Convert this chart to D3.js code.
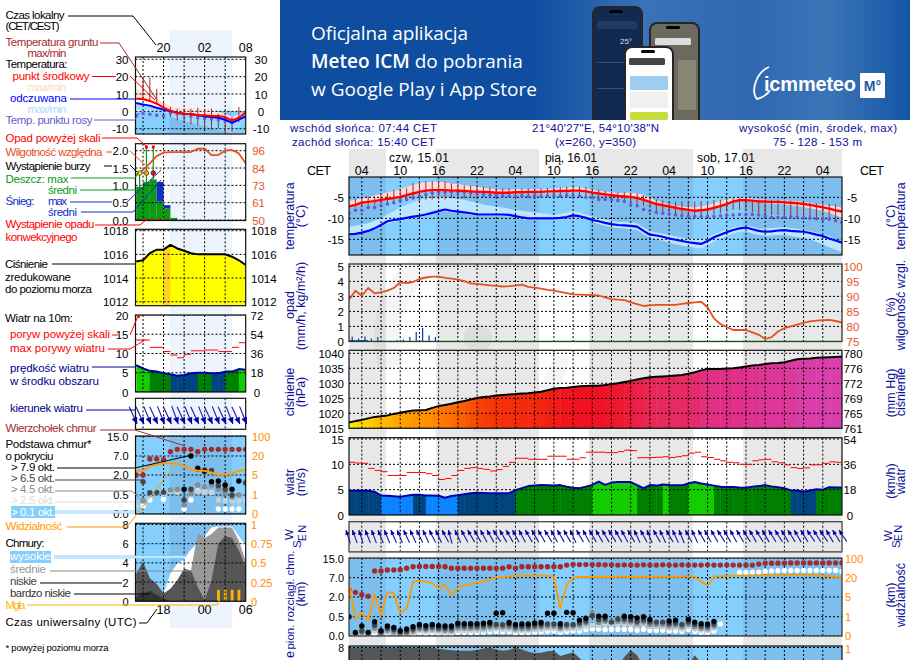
<!DOCTYPE html>
<html>
<head>
<meta charset="utf-8">
<script src="https://cdn.jsdelivr.net/npm/d3@7/dist/d3.min.js"></script>
<style>
html, body { margin: 0; padding: 0; background: #fff; overflow: hidden; }
text { font-family: "Liberation Sans", Arial, sans-serif; }
</style>
</head>
<body>
<svg id="chart" width="910" height="660"></svg>
<script>
// main chart: hourly values, hour 0 = 02:00 CET on 15.01
const mainHours = d3.range(78);
const mainTemp = [-7.2,-6.8,-6.3,-6.1,-5.9,-5.6,-5.4,-5.2,-4.9,-4.5,
  -4.1,-3.7,-3.4,-3.3,-3.3,-3.3,-3.4,-3.4,-3.5,-3.6,
  -3.7,-3.7,-3.8,-3.9,-3.9,-3.9,-3.8,-3.8,-3.7,-3.7,
  -3.7,-3.6,-3.6,-3.5,-3.5,-3.4,-3.4,-3.6,-3.9,-4.1,
  -4.3,-4.5,-4.7,-4.8,-4.9,-5.2,-5.6,-6.1,-6.6,-6.9,
  -7.2,-7.5,-7.8,-8.0,-8.2,-8.1,-7.9,-7.5,-7.1,-6.6,
  -6.0,-5.7,-5.7,-5.8,-6.0,-6.0,-6.1,-6.1,-6.2,-6.3,
  -6.4,-6.6,-6.8,-7.1,-7.4,-7.7,-8.1,-8.4];
const mainTempMax = [-5.9,-5.6,-5.2,-4.9,-4.5,-4.2,-3.8,-3.5,-3.1,-2.6,
  -2.1,-1.7,-1.4,-1.3,-1.3,-1.5,-1.7,-1.9,-2.1,-2.3,
  -2.5,-2.7,-2.9,-3.1,-3.2,-3.2,-3.1,-3.1,-3.1,-3.1,
  -3.0,-3.0,-2.9,-2.8,-2.7,-2.6,-2.6,-2.9,-3.2,-3.5,
  -3.6,-3.8,-4.0,-3.9,-3.9,-4.1,-4.4,-5.2,-5.9,-6.3,
  -6.7,-7.0,-7.2,-7.3,-7.4,-7.2,-6.9,-6.4,-5.9,-5.6,
  -5.3,-5.1,-5.1,-5.3,-5.6,-5.6,-5.7,-5.8,-5.8,-5.8,
  -5.9,-6.1,-6.3,-6.7,-6.8,-7.0,-7.2,-7.4];
const mainTempMin = [-7.6,-7.2,-6.7,-6.5,-6.3,-6.0,-5.8,-5.6,-5.2,-4.8,
  -4.4,-4.0,-3.7,-3.6,-3.6,-3.6,-3.7,-3.7,-3.8,-3.9,
  -4.0,-4.0,-4.1,-4.2,-4.2,-4.2,-4.1,-4.1,-4.0,-4.0,
  -4.0,-3.9,-3.9,-3.8,-3.8,-3.7,-3.7,-3.9,-4.2,-4.4,
  -4.6,-4.8,-5.0,-5.1,-5.2,-5.5,-5.9,-6.4,-6.9,-7.2,
  -7.5,-7.8,-8.1,-8.3,-8.5,-8.4,-8.2,-7.8,-7.4,-6.9,
  -6.3,-6.0,-6.0,-6.1,-6.3,-6.4,-6.5,-6.6,-6.7,-6.9,
  -7.0,-7.3,-7.6,-7.9,-8.2,-8.7,-9.3,-9.8];
const mainGroundMax = [null,-5.4,-5.3,-4.85,-4.7,-4.45,-4,-3.25,-3.1,-2.85,
  -1.65,-1.1,-1.1,-1.1,-1.2,-1.3,-1.7,-1.9,-2.1,-2.2,
  -2.4,-2.5,-2.6,-2.8,-2.9,-2.9,-2.9,-2.9,-2.9,-2.9,
  -2.9,-2.8,-2.7,-2.6,-2.5,-2.4,-2.4,-2.6,-2.9,-3.2,
  -3.5,-3.7,-3.9,-3.8,-3.9,-4.1,-4.5,-5.1,-5.5,-5.7,
  -5.9,-6,-6,-6.1,-6,-5.9,-5.9,-5.7,-5.6,-5.4,
  -5.2,-5.1,-5.4,-5.6,-5.6,-5.6,-5.6,-5.7,-5.8,-5.8,
  -6,-6.1,-6.3,-6.4,-6.4,-6.5,-6.7,null];
const mainGroundMin = [null,-7.4,-7.3,-6.8,-6.7,-6.4,-6.3,-6.2,-6,-5.6,
  -5.6,-6,-5.6,-5.5,-5.5,-5.5,-5.2,-5.2,-5.2,-5.2,
  -5.1,-5,-5,-5,-5,-5,-5,-5,-5,-5,
  -5,-5,-5,-5,-5,-5,-5,-5.1,-5.2,-5.4,
  -5.6,-5.8,-6,-6.1,-6.3,-6.6,-7,-7.5,-8.8,-9,
  -9.1,-9.3,-9.4,-9.5,-9.6,-9.5,-9.2,-9,-8.8,-8.5,
  -8,-8,-8,-8.5,-8.8,-9,-9.2,-9.2,-9.2,-9.4,
  -9.6,-9.8,-10,-10,-10,-10.3,-10.8,null];
const mainFeels = [-13.8,-13.7,-13.4,-13.0,-12.4,-11.6,-10.7,-10.4,-10.2,-9.9,
  -9.6,-9.4,-9.1,-8.7,-8.3,-7.9,-8.2,-8.4,-8.6,-8.8,
  -9.05,-9.1,-9.1,-9.1,-9.1,-9.2,-9.5,-9.8,-10,-10,
  -10,-10,-10,-9.9,-9.7,-9.3,-9.5,-9.9,-10.4,-10.7,
  -11.1,-11.4,-11.6,-11.7,-11.8,-12,-13,-13.9,-14.1,-14.4,
  -14.8,-15.1,-15.4,-15.7,-15.9,-16.1,-15.4,-14.5,-13.9,-13.3,
  -12.8,-12.4,-12.2,-12.6,-13,-13.2,-13.1,-12.9,-12.8,-13,
  -13.1,-13.2,-13.5,-13.9,-14.2,-14.8,-15.3,-15.8];
const mainFeelsMax = [-12,-11.8,-11.5,-11.1,-10.6,-10,-9.1,-8.3,-7.4,-6.8,
  -6.2,-5.7,-5.2,-5.1,-5.0,-5.0,-5.2,-5.4,-5.6,-6,
  -6.3,-6.7,-7,-7.2,-7.4,-7.7,-8,-8.2,-8.4,-8.6,
  -8.8,-9,-9.2,-9,-8.7,-8.4,-8.6,-9.1,-9.6,-9.9,
  -10.3,-10.6,-10.9,-10.8,-11,-11.2,-12.2,-13,-13.4,-13.7,
  -14,-14.3,-14.6,-14.8,-14.9,-15,-14.5,-13.8,-13.2,-12.7,
  -12.2,-11.9,-11.8,-12,-12.4,-12.4,-12.3,-12.2,-12.2,-12.3,
  -12.5,-12.7,-13,-13.4,-13.7,-14.3,-14.9,-15.5];
const mainFeelsMin = [-14.1,-14,-13.7,-13.3,-12.8,-12,-11.3,-10.8,-10.6,-10.3,
  -10,-9.8,-9.5,-9.1,-8.7,-8.3,-8.6,-8.8,-9,-9.2,
  -9.4,-9.5,-9.5,-9.5,-9.5,-9.6,-9.9,-10.2,-10.4,-10.4,
  -10.4,-10.4,-10.4,-10.3,-10.1,-9.7,-9.9,-10.3,-10.8,-11.4,
  -11.8,-12.1,-12.3,-12.4,-12.6,-12.8,-13.8,-14.7,-15,-15.3,
  -15.8,-16.2,-16.5,-16.8,-17,-17.2,-16.5,-15.5,-14.8,-14.2,
  -13.6,-13.2,-13.1,-13.6,-13.9,-14.2,-14.1,-14,-13.9,-14.2,
  -14.5,-14.7,-15,-15.6,-16.2,-16.9,-17.5,-18];
const mainDew = [-8.8,-8.1,-8.1,-7.4,-7.4,-7,-6.6,-6.3,-5.8,-5.5,
  -5.1,-4.7,-4.4,-4,-3.7,-3.7,-3.7,-3.7,-3.7,-3.9,
  -4.2,-4.3,-4.5,-4.6,-4.7,-4.7,-4.8,-4.7,-4.8,-4.7,
  -4.8,-4.7,-4.7,-4.7,-4.6,-4.7,-4.7,-5,-5.1,-5.5,
  -5.5,-5.6,-5.8,-6,-6.8,-7,-7.9,-8.2,-8.6,-8.8,
  -9,-9.2,-9.4,-9.5,-9.6,-9.6,-9.6,-9.5,-9.4,-9.3,
  -9.2,-9.1,-9.1,-9.1,-9.2,-9.5,-9.8,-9.8,-9.7,-9.7,
  -9.7,-9.9,-10,-10.1,-10.2,-10.2,-10.6,-11];
const mainHumidity = [88.9,91.9,90.2,92.8,91,91.4,91.9,92.8,94.7,94.4,
  94.8,95.8,96.3,96.6,96.6,96.2,95.9,95.6,95.1,94.3,
  94.2,93.9,93.7,93.5,93.3,93.4,93.6,93.9,93.2,92.9,
  92.6,92.2,91.9,91.5,91.1,90.7,90.6,90.5,90.4,90.3,
  89.7,89.1,88.9,88.8,88,87.4,86.8,87,87.2,87.2,
  87.2,87.2,87.5,87.8,88,88.2,86.4,82.7,80.8,79.8,
  78.8,78.8,78.8,78,77.2,75.8,76.4,78.3,79.4,80,
  80.6,81.2,81.7,81.9,82.1,82.2,81.8,81.3];
const mainSnowMax = [.33,.2,.33,.2,.3,.05,.05,.1,.13,.3,.62,.89,.4,.3];
const mainSnowMean = [.08,.08,.08];
const mainPressure = [1016.9,1017.4,1017.8,1018.3,1018.8,1019,1019.3,1019.8,1020.2,1020.6,
  1020.9,1021,1021.1,1021.8,1022.4,1022.8,1023.2,1023.7,1024.1,1024.6,
  1025.1,1025.4,1025.6,1025.9,1026.1,1026.3,1026.4,1026.6,1026.7,1026.9,
  1027.2,1027.7,1028.2,1028.4,1028.5,1028.8,1029,1029.1,1029.2,1029.2,
  1029.4,1029.7,1030,1030.4,1030.8,1031.3,1031.7,1032,1032.2,1032.3,
  1032.4,1032.6,1032.8,1033.2,1033.7,1034.3,1034.8,1034.8,1034.8,1034.9,
  1035,1035.3,1035.6,1035.9,1036.1,1036.4,1036.7,1036.8,1037,1037.5,
  1038,1038.2,1038.3,1038.5,1038.6,1038.7,1038.8,1038.9];
const mainWind = [4.8,4.8,4.85,4.8,4.6,3.85,3.8,3.7,3.6,3.8,
  4,4,3.85,3.85,3.8,3.4,3.75,3.9,4.1,4.3,
  4.4,4.35,4.3,4.3,4.3,4.3,4.9,5.3,5.7,5.8,
  5.9,5.85,5.8,5.9,5.6,5.4,5.3,5.6,5.95,6.6,
  5.95,6.4,6.5,6.5,6.5,5.9,5.3,5.9,5.8,6,
  5.9,5.85,5.85,6.2,6.5,6.2,6,5.8,5.6,5.55,
  5.55,5.45,5.4,5.6,5.7,5.9,5.65,5.5,5.3,4.85,
  4.85,4.6,4.85,5.1,5,5.5,5.45,5.45];
const mainGust = [10.4,10.25,10.2,9.2,8.8,8.55,7.8,7.8,7.8,8.4,
  8.4,8.4,8.15,7.8,7,7.2,7.8,8.8,9.2,9.35,
  9.2,9,8.7,8.95,9.6,10.4,11.2,11.2,11,11,
  11,11.6,11.6,11.6,11,11,11.3,12.4,12.4,12.4,
  12.3,12.3,12.5,12.8,12.7,11.3,11.3,11.35,11.4,11.5,
  11.35,11.5,11.7,12.2,12.4,11.5,11.35,11,10.7,10.4,
  10.3,10,10,10.7,10.9,11,10.5,10.3,9.9,9.35,
  9.2,9.3,9.9,9.9,10.2,10.5,10.4,10.3];
const mainWindDir = [162,160,162,158,160,158,158,156,158,155,
  155,153,155,153,155,152,165,155,152,150,
  150,152,150,148,150,150,152,152,150,150,
  150,148,152,150,150,155,150,152,150,150,
  150,148,150,152,150,155,152,158,150,155,
  150,155,158,152,155,150,152,150,148,150,
  152,150,148,150,148,150,148,148,150,148,
  150,148,146,148,146,150,148,146];
const mainVisibility = [15.7,.91,1.69,.83,6.8,1.34,8.8,8,1.69,2.6,
  17,17.5,17,15.7,11.9,14.4,6.8,11.9,13.9,15.2,
  16.2,17,18.5,21.4,22.8,24.1,28.3,28.3,28.3,28.3,
  28.3,28.3,24.1,2.7,14.4,21.4,22.8,22.8,22.8,22.8,
  22.8,22.8,24,24,22.8,22.8,22.8,24,24,24,
  24,24,24,26.9,24,17,13.9,24,26.9,26.9,
  28.3,28.3,28.3,28.3,29.7,29.7,29.7,30,32,32,
  32,31,31,30,28,26,24,22.8];
const mainCloudTop = [3.9,3.2,2.6,2.2,9.8,9.8,10.2,10.2,10.3,10.9,
  11.5,11.6,11.6,11.6,11.6,11.5,10.9,10.9,10.9,10.9,
  10.9,10.9,10.9,10.9,10.9,11.5,10.9,11.5,11.5,11.5,
  11.5,11.5,11.5,11.5,12.2,12.5,12.4,12.4,12.4,12.4,
  12.3,12.3,12.2,12.3,12.2,12.2,12.3,12.2,12.2,12.3,
  12.2,12.2,12.3,12.2,12.2,12.2,12.3,12.2,12.2,12.2,
  12.2,12.2,12.2,12.2,12.6,13,13,13,13,13.1,
  13.1,13.1,13.1,13.1,13.1,13.1,13.1,13.1];
const mainBase79 = [.5,.09,.26,.09,.37,.14,.26,.22,.14,.18,
  .24,.3,.27,.3,.27,.26,.26,.33,.32,.32,
  .32,.33,.35,.76,.8,.35,.3,.31,.31,.34,
  .35,.76,.76,.32,.83,.8,.41,.46,null,.53,
  .53,null,null,.53,.5,.47,.5,.43,null,null,
  .39,.41,null,.43,.36,.32,.31,.38,null];
const mainBase65 = [null,null,.13,null,.28,.1,.2,.16,.1,.12,
  .18,.24,.21,.24,.21,.2,.2,.27,.26,.26,
  .26,.27,.29,.3,.29,.29,.24,.25,.25,.28,
  .29,.31,.31,.26,.3,.3,.34,.39,.58,.42,
  .44,.36,.44,.44,.42,.38,.42,.36,.36,.36,
  .32,.34,.3,.36,.3,.26,.25,.31,null];
const mainBase45 = [null,.06,.09,null,.2,.06,.14,.1,.06,.08,
  .12,.18,.16,.18,.16,.14,.14,.21,.2,.2,
  .2,.21,.23,.24,.23,.23,.18,.19,.19,.22,
  .23,.25,.25,.2,.24,.25,.28,.33,.76,.35,
  .38,.37,.38,.38,.36,.32,.36,.3,.3,.3,
  .26,.28,.24,.3,.24,.2,.19,.25,null];
const mainBase25 = [null,.03,.05,.03,.13,.04,.09,.06,.04,.05,
  .08,.13,.11,.13,.11,.1,.1,.15,.14,.14,
  .14,.15,.17,.18,.17,.17,.13,.14,.14,.16,
  .17,.19,.19,.15,.18,.19,.2,.25,.28,.28,
  .3,.3,.3,.3,.3,.26,.3,.24,.24,.24,
  .2,.22,.18,.24,.18,.15,.14,.2,null];
const mainBase01 = [null,null,.03,null,.06,.02,.05,.03,.02,.03,
  .05,.08,.07,.08,.07,.06,.06,.09,.09,.09,
  .09,.1,.11,.11,.11,.11,.08,.09,.09,.1,
  .11,.12,.12,.1,.12,.13,.13,.17,.18,.18,
  .16,.17,.17,.17,.17,.15,.17,.15,.15,.15,
  .13,.13,.12,.17,.12,.1,.09,.13,.31,null,
  null,9.2,9.2,9.3,9.3,9.6,9.8,9.9,10,10,
  10,10,10,10,10,10,10,9.6];
const mainCloudLow = [8,8,8,8,8,8,8,8,8,8,
  8,8,8,8,7.87,7.8,7.7,7.66,7.66,7.66,
  7.75,7.9,8,7.8,7.66,7.75,8,7.8,7.55,7.4,
  7.45,7.6,7.66,7.1,7.3,7.5,6.9,6.3,6,6.4,
  6.8,6.2,6,7,7.7,7.2,6,5.5,5,5,
  5,5,5.4,6.2,7.2,6.4,5.5,5,4.8,4.8,
  4.5,4.5,4.4,4.2,4.2,4,4,4,4,4,
  4,4,4,4,4,4,4,4];
const mainDayBands = [[5.78, 13.6], [29.7, 37.5], [53.75, 61.56]];
const mainHourTicks = [2, 8, 14, 20, 26, 32, 38, 44, 50, 56, 62, 68, 74];
const mainHourLabels = ['04', '10', '16', '22', '04', '10', '16', '22', '04', '10', '16', '22', '04'];
const mainGridHours = d3.range(2, 77, 3);

// small chart on the left: hourly values from 16:00 to 08:00 local time
const leftHours = d3.range(16, 33);
const leftTemp = [7.3,7.1,6,4.4,2.1,.2,-1,-1.4,-1.7,-2.3,-2.3,-2.7,-2.7,-3.3,-5.2,-3.7,-.6];
const leftTempMax = [13,11.2,9.2,7.3,5.4,2.9,2.5,2.1,1.5,1.5,1,.6,-.4,-1.3,-3.3,-1.7,-.4];
const leftTempMin = [6.8,6.5,5.4,3.8,1.5,-.4,-1.6,-2,-2.3,-2.9,-2.9,-3.3,-3.4,-3.9,-5.8,-4.2,-1.2];
const leftFeels = [4.8,4,3.3,2.1,1,.2,-.8,-1.4,-1.5,-2.3,-2.9,-3.3,-3.7,-4.8,-6.7,-4.8,-2.9];
const leftFeelsMin = [1,.5,.5,0,-.5,-3.3,-4.6,-5.6,-6.7,-7.7,-8.7,-9.7,-10.6,-11.5,-12.9,-9,-3.3];
const leftGroundMax = [null,19.8,19.4,13,6.3,2.5,1.5,1.5,1.5,2.1,1.5,1.5,-1.3,-2.3,-3.3,2.5,null];
const leftGroundMin = [null,6.3,6,4.4,2.5,-3.3,-5.2,-6.2,-7.5,-8.1,-10,-10.6,-10,-12.9,-11.9,-6.2,null];
const leftDew = [-2.3,-1.3,-1.7,-2.3,-2.5,-1,-1.3,-1.7,-2.7,-3.7,-4.2,-4.4,-4.8,-5.6,-5.2,-4.2,-3.3];
const leftHumidity = [79.9,83.2,87.6,92.5,94.7,95.1,95.1,95.1,95.1,97.3,97.3,93.1,93.1,96,96.5,94.2,87.6];
const leftRain = [.96,1.1,1.17,.53,.33,.06,0,0,0,0,0,0,0,0,0,0];
const leftSnow = [0,0,0,.57,.1,0,0,0,0,0,0,0,0,0,0,0];
const leftRainMax = [1.35,2.07,2.07];
const leftStormColors = ['#ffee00', '#ffaa00', '#ee1100'];
const leftRainOverHours = [1, 2];
const leftConvective = [0, 1, 2, 3, 4];
const leftPressure = [1015.4,1015.5,1016.1,1016.4,1016.4,1016.8,1016.5,1016.3,1016.1,1016,1016,1016,1016,1016,1015.8,1015.5,1015.1];
const leftWind = [7,6.1,5.5,5.3,4.9,4.6,4.2,4.4,4.85,5,5,4.85,4.85,5.3,5.3,5.95,5.8];
const leftGust = [13.5,13.5,11.6,11.6,10.5,9.6,8.9,9.8,10.7,10.7,10.9,10.9,10.5,10.5,11.6,12.8];
const leftWindDir = [335,335,338,335,338,335,340,335,338,335,338,335,338,335,338,335,338];
const leftVisibility = [8.4,8.4,12,13.4,14,14,14,12.4,9.5,8.4,8.4,6.8,5.3,5.8,6,8.4,9];
const leftCloudTop = [2,2,6.2,6.2,6,8.7,9.7,9.7,9.7,8.7,9.7,9.7,9.7,9.7,9.7,9.7,9.7];
const leftBase79 = [null,null,null,null,null,null,null,.93,7,3.8,3,1.5,1.55,1.25,.93,1.55,null];
const leftBase65 = [null,1.5,.68,.7,.7,null,null,.37,.93,3.5,3.3,3.2,1.2,.93,.5,null,1.4];
const leftBase45 = [null,.35,null,null,null,.88,.93,.24,.6,1.25,1.1,1.25,.93,.7,.45,.5,1.5];
const leftBase25 = [.21,null,null,null,.6,.8,.7,null,.5,.75,.7,.7,.37,.35,.35,.35,.35];
const leftBase01 = [null,.21,.37,null,.39,.8,null,.13,.37,.8,.75,.7,.13,.13,.13,.13,null];
const leftCloudHigh = [0,0,0,0,.8,2.9,3.9,4.4,5.4,6.1,6.8,7.7,7.8,7.8,7.8,6.8,5.8];
const leftCloudMid = [0,0,0,0,0,.8,1.7,3,3.2,7.1,6.6,7,7.7,7.7,7.7,6.3,4.2];
const leftCloudLow = [2.9,4.1,2.4,1.8,.8,1.3,2.2,3.4,3.2,1.5,.1,2.2,6,6.8,6.6,5.3,3.6];
const leftCloudVeryLow = [.5,.8,1.1,.65,.3,0,0,0,0,0,0,0,0,0,0,0,0];
const leftFog = [.15,.15,.15,.15];
const leftFogHours = [28, 29, 30, 31];
const leftNightBand = [[20.9, 30]];
const leftGridHours = [17, 20, 23, 26, 29];
const leftLabelHours = [20, 26, 32];
const leftLocalLabels = ['20', '02', '08'];
const leftUtcLabels = ['18', '00', '06'];

// axis ticks
const tempTicks = [-5, -10, -15];
const rainTicks = [0, 1, 2, 3, 4, 5];
const humidityTicks = [75, 80, 85, 90, 95, 100];
const pressureTicks = [1015, 1020, 1025, 1030, 1035, 1040];
const pressureHgLabels = ['761', '765', '769', '772', '776', '780'];
const windTicks = [0, 5, 10, 15];
const windKmhLabels = ['0', '18', '36', '54'];
const heightTicks = [0, .5, 2, 7, 15];
const visibilityTicks = [0, 1, 5, 20, 100];
const leftTempTicks = [30, 20, 10, 0, -10];
const leftRainTicks = [2, 1.5, 1, .5, 0];
const leftHumidityLabels = ['96', '84', '73', '61', '50'];
const leftPressureTicks = [1018, 1016, 1014, 1012];
const leftWindTicks = [20, 15, 10, 5, 0];
const leftWindKmhLabels = ['72', '54', '36', '18', '0'];
const cloudTicks = [0, 2, 4, 6, 8];
const cloudFractionLabels = ['0', '0.25', '0.5', '0.75', '1'];

const BLACK = '#000', NAVY = '#10109a', RED = '#ff0000', BROWN = '#a52a2a', HUMID = '#e6501e';
const ORANGE = '#ff9a00', PURPLE = '#6a5acd', SKY_DAY = '#85cfff', SKY_NIGHT = '#7cbfee';
const BASE_COLORS = ['#fff', '#cfcfcf', '#8c8c8c', '#454545', '#000'];

const svg = d3.select('#chart');
let clipCount = 0;

const mainX = d3.scaleLinear().domain([0, 77]).range([349, 842]);
const leftX = d3.scaleLinear().domain([15.9, 32]).range([135.5, 245.7]);

const windColor = d3.scaleThreshold().domain([3.9, 4.87, 5.95]).range(['#0a84ff', '#00457f', '#008000', '#15cc00']);
const pressureColor = d3.scaleLinear()
  .domain([1017.2, 1019, 1022, 1026, 1029, 1032, 1035, 1039])
  .range(['#ffe000', '#ffb800', '#ff8000', '#f53008', '#f01020', '#e82858', '#e03088', '#d840b0']);

function panel(x, top, bottom) {
  // clipped group for one panel of a chart
  let id = 'clip' + (clipCount++);
  svg.append('clipPath').attr('id', id).append('rect')
    .attr('x', x.range()[0]).attr('y', top)
    .attr('width', x.range()[1] - x.range()[0]).attr('height', bottom - top);
  let g = svg.append('g').attr('clip-path', 'url(#' + id + ')');
  return { g: g, x: x, top: top, bottom: bottom, x0: x.range()[0], x1: x.range()[1] };
}

function sky(p, top, bands, baseColor, bandColor) {
  p.g.append('rect').attr('x', p.x0).attr('y', top).attr('width', p.x1 - p.x0).attr('height', p.bottom - top).attr('fill', baseColor);
  p.g.selectAll(null).data(bands).join('rect')
    .attr('x', d => p.x(d[0])).attr('y', top)
    .attr('width', d => p.x(d[1]) - p.x(d[0])).attr('height', p.bottom - top)
    .attr('fill', bandColor);
}

function grid(p, hours, y, ticks) {
  let dash = '2,2';
  p.g.selectAll(null).data(hours).join('line')
    .attr('x1', d => p.x(d)).attr('x2', d => p.x(d))
    .attr('y1', p.top).attr('y2', p.bottom)
    .attr('stroke', BLACK).attr('stroke-dasharray', dash);
  p.g.selectAll(null).data(ticks).join('line')
    .attr('x1', p.x0).attr('x2', p.x1)
    .attr('y1', d => y(d)).attr('y2', d => y(d))
    .attr('stroke', BLACK).attr('stroke-dasharray', dash);
}

function band(p, y, hours, low, high, color) {
  let area = d3.area().x(d => p.x(d)).y0((d, i) => y(low[i])).y1((d, i) => y(high[i]));
  p.g.append('path').attr('d', area(hours)).attr('fill', color);
}

function fillTo(p, y, hours, values, color, floor) {
  let area = d3.area().x(d => p.x(d)).y0(y(floor)).y1((d, i) => y(values[i]));
  p.g.append('path').attr('d', area(hours)).attr('fill', color);
}

function curve(p, y, hours, values, color, width) {
  let line = d3.line().defined((d, i) => values[i] !== null).x(d => p.x(d)).y((d, i) => y(values[i]));
  p.g.append('path').attr('d', line(hours)).attr('fill', 'none').attr('stroke', color)
    .attr('stroke-width', width).attr('stroke-linejoin', 'round');
}

function dots(p, y, hours, values, color, r) {
  let pts = hours.map((h, i) => [h, values[i]]).filter(d => d[1] !== null && d[1] !== undefined);
  p.g.selectAll(null).data(pts).join('circle')
    .attr('cx', d => p.x(d[0])).attr('cy', d => y(d[1])).attr('r', r).attr('fill', color);
}

function columns(p, y, hours, values, colorOf, floor) {
  // one coloured column per hour, clipped to the area under the line
  let id = 'clip' + (clipCount++);
  let area = d3.area().x(d => p.x(d)).y0(y(floor)).y1((d, i) => y(values[i]));
  svg.append('clipPath').attr('id', id).append('path').attr('d', area(hours));
  p.g.append('g').attr('clip-path', 'url(#' + id + ')')
    .selectAll('rect').data(hours.slice(0, -1)).join('rect')
    .attr('x', d => p.x(d)).attr('y', p.top)
    .attr('width', d => p.x(d + 1) - p.x(d) + .5).attr('height', p.bottom - p.top)
    .attr('fill', (d, i) => colorOf(values[i], i));
}

function ground(p, y, hours, high, low) {
  let pts = hours.map((h, i) => [h, high[i], low[i]]).filter(d => d[1] !== null);
  p.g.selectAll(null).data(pts).join('line')
    .attr('x1', d => p.x(d[0])).attr('x2', d => p.x(d[0]))
    .attr('y1', d => y(d[1])).attr('y2', d => y(d[2]))
    .attr('stroke', BROWN);
}

function gusts(p, y, hours, values) {
  p.g.selectAll(null).data(values).join('line')
    .attr('x1', (d, i) => p.x(hours[i])).attr('x2', (d, i) => p.x(hours[i] + 1))
    .attr('y1', d => y(d)).attr('y2', d => y(d))
    .attr('stroke', RED);
}

function arrows(x, hours, dirs, yTip, len, head, dx) {
  let g = svg.append('g');
  let items = g.selectAll('g').data(hours).join('g')
    .attr('transform', (d, i) => 'translate(' + (x(d) + dx) + ',' + yTip + ') rotate(' + dirs[i] + ')');
  items.append('line').attr('x1', 0).attr('x2', 0).attr('y1', 0).attr('y2', -len)
    .attr('stroke', '#1818b0').attr('stroke-width', 1.1);
  items.append('path').attr('d', 'M0,0L' + head + ',' + (-head * 2.2) + 'L' + (-head) + ',' + (-head * 2.2) + 'Z')
    .attr('fill', '#00009c');
}

function border(p, color, width) {
  svg.append('rect').attr('x', p.x0).attr('y', p.top).attr('width', p.x1 - p.x0).attr('height', p.bottom - p.top)
    .attr('fill', 'none').attr('stroke', color || '#111').attr('stroke-width', width || 1.2);
}

function tickText(scale, values, labels, xPos, anchor, color, size) {
  // tick labels through a d3 axis, without ticks or domain line
  let axis = d3.axisLeft(scale).tickValues(values).tickSize(0).tickPadding(0)
    .tickFormat((d, i) => labels ? labels[i] : d);
  let g = svg.append('g').attr('transform', 'translate(' + xPos + ',0)').call(axis);
  g.select('.domain').remove();
  g.selectAll('text')
    .attr('x', 0).attr('dy', '.36em')
    .attr('text-anchor', anchor).attr('fill', color || BLACK)
    .attr('font-size', size || 11.5)
    .attr('font-family', '"Liberation Sans", Arial, sans-serif');
}

function label(text, x, y, opts) {
  opts = opts || {};
  let t = svg.append('text').attr('x', x).attr('y', y).text(text)
    .attr('fill', opts.color || BLACK)
    .attr('font-size', opts.size || 11.5)
    .attr('text-anchor', opts.anchor || 'start');
  if (opts.width) t.attr('textLength', opts.width).attr('lengthAdjust', 'spacing');
  if (opts.bold) t.attr('font-weight', 'bold');
  return t;
}

function vertical(text, x, y, color, size) {
  svg.append('text').attr('transform', 'translate(' + x + ',' + y + ') rotate(-90)')
    .attr('text-anchor', 'middle').attr('fill', color || NAVY).attr('font-size', size || 12.5).text(text);
}

function connector(points, color, width) {
  svg.append('path').attr('d', d3.line()(points)).attr('fill', 'none')
    .attr('stroke', color).attr('stroke-width', width || 1);
}

// ---- banner ----
function drawBanner() {
  let defs = svg.append('defs');
  let grad = defs.append('linearGradient').attr('id', 'bannerFill');
  [[0, '#0f4da0'], [.4, '#0f4da0'], [.58, '#3a72b7'], [.75, '#2f68b0'], [.87, '#3b74b6'], [1, '#1456a6']]
    .forEach(s => grad.append('stop').attr('offset', s[0]).attr('stop-color', s[1]));
  defs.append('clipPath').attr('id', 'bannerClip').append('rect')
    .attr('x', 280).attr('y', 0).attr('width', 630).attr('height', 120);
  svg.append('rect').attr('x', 280).attr('y', 0).attr('width', 630).attr('height', 120).attr('fill', 'url(#bannerFill)');

  let textFont = '"Open Sans", "Noto Sans", sans-serif';
  label('Oficjalna aplikacja', 311, 40, { color: '#fff', size: 19, width: 157 }).style('font-family', textFont);
  let second = label('', 311, 68, { color: '#fff', size: 19 }).style('font-family', textFont);
  second.append('tspan').attr('font-weight', 600).text('Meteo ICM');
  second.append('tspan').text(' do pobrania');
  label('w Google Play i App Store', 311, 96, { color: '#fff', size: 19, width: 226 }).style('font-family', textFont);

  // three phones, back to front, cut at the lower edge of the banner
  let phones = svg.append('g').attr('clip-path', 'url(#bannerClip)');
  let phone = (x, y, w, fill) => phones.append('rect').attr('x', x).attr('y', y).attr('width', w).attr('height', 130)
    .attr('rx', 7).attr('fill', fill).attr('stroke', '#26262a').attr('stroke-width', 2);
  let piece = (x, y, w, h, fill) => phones.append('rect').attr('x', x).attr('y', y).attr('width', w).attr('height', h).attr('rx', 1.5).attr('fill', fill);
  phone(593, 7, 49, '#122a4f');
  piece(609, 10, 14, 3, '#000');
  piece(597, 21, 40, 8, '#24395f');
  piece(597, 62, 40, 1, '#35507f');
  piece(597, 88, 40, 1, '#35507f');
  phone(650, 23, 49, '#6c6a5e');
  piece(666, 26, 14, 3, '#000');
  piece(655, 38, 36, 7, '#ddd');
  piece(678, 60, 18, 50, '#8a8676');
  phone(625, 47, 48, '#fff');
  piece(641, 50, 14, 3, '#000');
  piece(629, 58, 36, 7, '#444');
  piece(630, 76, 38, 14, '#9ecdf0');
  piece(630, 92, 38, 16, '#f0f0f0');
  piece(630, 112, 38, 8, '#c8dc3c');
  label('25°', 620, 44, { color: '#dde', size: 8 });

  // logo
  svg.append('path').attr('d', 'M769,67C757,72 750,90 757,99C762,98 768,94 770,90')
    .attr('fill', 'none').attr('stroke', '#fff').attr('stroke-width', 1.8);
  label('icmmeteo', 764, 91, { color: '#fff', size: 20, bold: true, width: 92 });
  svg.append('rect').attr('x', 860).attr('y', 73).attr('width', 25).attr('height', 25).attr('rx', 1).attr('fill', '#fff');
  label('M°', 872.5, 91, { color: '#1a5ba8', size: 14, bold: true, anchor: 'middle' });
}

// ---- header and stripes of the main chart ----
function drawMainBackdrop() {
  label('wschód słońca: 07:44 CET', 290, 132, { color: NAVY, size: 11.5, width: 147 });
  label('zachód słońca: 15:40 CET', 292, 146, { color: NAVY, size: 11.5, width: 143 });
  label('21°40\'27"E, 54°10\'38"N', 532, 132, { color: NAVY, size: 11.5, width: 127 });
  label('(x=260,  y=350)', 555, 146, { color: NAVY, size: 11.5, width: 81 });
  label('wysokość (min, środek, max)', 739, 132, { color: NAVY, size: 11.5, width: 158 });
  label('75 - 128 - 153 m', 773, 146, { color: NAVY, size: 11.5, width: 89 });

  svg.append('rect').attr('x', 349).attr('y', 149).attr('width', 493).attr('height', 511).attr('fill', '#e8e8e8');
  svg.selectAll(null).data(mainDayBands).join('rect')
    .attr('x', d => mainX(d[0])).attr('y', 149)
    .attr('width', d => mainX(d[1]) - mainX(d[0])).attr('height', 511)
    .attr('fill', '#fff');

  // faint watermark behind the panels
  let arc = d3.arc();
  let mark = svg.append('g').attr('transform', 'translate(478,338)').attr('fill', '#000').attr('opacity', .035);
  mark.append('path').attr('d', arc({ innerRadius: 78, outerRadius: 104, startAngle: -1.9, endAngle: .4 }));
  mark.append('path').attr('d', arc({ innerRadius: 78, outerRadius: 94, startAngle: 1.8, endAngle: 3.2 }));
  mark.append('circle').attr('cx', 0).attr('cy', 0).attr('r', 14);

  label('czw, 15.01', 389, 162, { size: 12, width: 60 });
  label('pią, 16.01', 545, 162, { size: 12, width: 52 });
  label('sob, 17.01', 697, 162, { size: 12, width: 58 });
  label('CET', 307, 175, { size: 12.5, width: 24 });
  label('CET', 860, 175, { size: 12.5, width: 24 });
  svg.selectAll(null).data(mainHourTicks).join('text')
    .attr('x', d => mainX(d)).attr('y', 175).attr('text-anchor', 'middle')
    .attr('font-size', 12.5).text((d, i) => mainHourLabels[i]);
}

function drawMainChart() {
  let x = mainX;
  let hours = mainHours;

  // temperature
  let yTemp = d3.scaleLinear().domain([-5, -15]).range([197.3, 239.3]);
  let p = panel(x, 177, 255);
  sky(p, 177, mainDayBands, SKY_NIGHT, SKY_DAY);
  band(p, yTemp, hours, mainFeelsMin, mainFeelsMax, '#bde6ff');
  band(p, yTemp, hours, mainTempMin, mainTempMax, '#ffdada');
  grid(p, mainGridHours, yTemp, tempTicks);
  ground(p, yTemp, hours, mainGroundMax, mainGroundMin);
  dots(p, yTemp, hours, mainDew, PURPLE, 1.8);
  curve(p, yTemp, hours, mainFeels, '#0000ff', 2.2);
  curve(p, yTemp, hours, mainTemp, '#ff0000', 2.4);
  border(p);
  tickText(yTemp, tempTicks, null, 344, 'end');
  tickText(yTemp, tempTicks, null, 852, 'middle');

  // precipitation and humidity
  let yRain = d3.scaleLinear().domain([0, 5]).range([341.4, 266.4]);
  let yHum = d3.scaleLinear().domain([75, 100]).range([341.4, 266.4]);
  p = panel(x, 264, 341.5);
  grid(p, mainGridHours, yRain, rainTicks);
  p.g.selectAll(null).data(mainSnowMax).join('line')
    .attr('x1', (d, i) => x(i + .5)).attr('x2', (d, i) => x(i + .5))
    .attr('y1', yRain(0)).attr('y2', d => yRain(d))
    .attr('stroke', '#1030d0').attr('stroke-width', 1.2);
  p.g.selectAll(null).data(mainSnowMean).join('rect')
    .attr('x', (d, i) => x(i)).attr('y', d => yRain(d))
    .attr('width', (d, i) => x(i + 1) - x(i)).attr('height', d => yRain(0) - yRain(d))
    .attr('fill', '#1030d0');
  curve(p, yHum, hours, mainHumidity, HUMID, 1.8);
  border(p, '#333', 1.3);
  svg.append('line').attr('x1', 349).attr('x2', 842).attr('y1', 341.5).attr('y2', 341.5).attr('stroke', '#0a5a0a');
  tickText(yRain, rainTicks, null, 344, 'end');
  tickText(yHum, humidityTicks, null, 853, 'middle', '#e8531f');

  // pressure
  let yPres = d3.scaleLinear().domain([1015, 1040]).range([428.3, 353.3]);
  p = panel(x, 350.3, 428.3);
  columns(p, yPres, hours, mainPressure, v => pressureColor(v), 1015);
  grid(p, mainGridHours, yPres, pressureTicks);
  curve(p, yPres, hours, mainPressure, '#000', 2);
  border(p);
  tickText(yPres, pressureTicks, null, 344, 'end');
  tickText(yPres, pressureTicks, pressureHgLabels, 853, 'middle');

  // wind
  let yWind = d3.scaleLinear().domain([0, 15]).range([515, 439]);
  p = panel(x, 437.7, 515);
  columns(p, yWind, hours, mainWind, v => windColor(v), 0);
  grid(p, mainGridHours, yWind, windTicks);
  gusts(p, yWind, hours, mainGust);
  curve(p, yWind, hours, mainWind, '#0000a8', 2);
  border(p);
  tickText(yWind, windTicks, null, 344, 'end');
  tickText(yWind, windTicks, windKmhLabels, 850, 'middle');

  // wind direction
  p = panel(x, 521.7, 551.7);
  grid(p, mainGridHours, yWind, []);
  border(p, '#444', 1.3);
  svg.append('line').attr('x1', 349).attr('x2', 842).attr('y1', 551.7).attr('y2', 551.7).attr('stroke', '#666').attr('stroke-width', 1.5);
  arrows(x, hours, mainWindDir, 530, 14, 2.2, -3);

  // cloud base and visibility
  let yBase = d3.scaleLinear().domain(heightTicks).range([636, 616.7, 597, 577.7, 558.3]);
  let yVis = d3.scaleLinear().domain(visibilityTicks).range([636, 616.7, 597, 577.7, 558.3]);
  p = panel(x, 558, 636);
  sky(p, 558, mainDayBands, SKY_NIGHT, SKY_DAY);
  grid(p, mainGridHours, yBase, heightTicks);
  [mainBase01, mainBase25, mainBase45, mainBase65, mainBase79].forEach((s, i) => dots(p, yBase, hours, s, BASE_COLORS[i], 2.7));
  dots(p, yBase, hours, mainCloudTop, BROWN, 2.7);
  curve(p, yVis, hours, mainVisibility, ORANGE, 1.8);
  border(p, '#333');
  tickText(yBase, heightTicks, ['0.0', '0.5', '2.0', '7.0', '15.0'], 344, 'end', BLACK, 11);
  tickText(yVis, visibilityTicks, null, 845, 'start', '#ff8c00', 11);

  // clouds
  let yCloud = d3.scaleLinear().domain([0, 8]).range([724, 647.5]);
  p = panel(x, 646, 724);
  sky(p, 646, mainDayBands, SKY_NIGHT, SKY_DAY);
  fillTo(p, yCloud, hours, mainCloudLow, '#555', 0);
  grid(p, mainGridHours, yCloud, cloudTicks);
  border(p);
  tickText(yCloud, [8], null, 344, 'end', BLACK, 10.5);
  label('1', 845, 653, { color: '#ff8c00', size: 11 });

  // axis titles
  vertical('temperatura', 294, 216);
  vertical('(°C)', 305, 216);
  vertical('opad', 294, 305);
  vertical('(mm/h, kg/m²/h)', 305, 306);
  vertical('ciśnienie', 294, 392);
  vertical('(hPa)', 305, 392);
  vertical('wiatr', 294, 482);
  vertical('(m/s)', 305, 482);
  vertical('pion. rozciągł. chm.', 294, 600, NAVY, 11.5);
  vertical('(km)', 305, 594);
  svg.append('text').attr('transform', 'translate(294,658) rotate(-90)').attr('fill', NAVY).attr('font-size', 12.5).text('e');

  vertical('temperatura', 905, 216);
  vertical('(°C)', 895, 216);
  vertical('wilgotność wzgl.', 905, 305);
  vertical('(%)', 895, 307);
  vertical('ciśnienie', 905, 392);
  vertical('(mm Hg)', 895, 393);
  vertical('wiatr', 905, 481);
  vertical('(km/h)', 895, 481);
  vertical('widzialność', 905, 595);
  vertical('(km)', 895, 595);

  // compass letters next to the wind direction panel
  [[293, 540, 'W', 11.5], [301, 548, 'S', 11.5], [306, 533, 'N', 11.5], [306, 541, 'E', 10],
   [892, 541, 'W', 11.5], [900, 548, 'S', 11.5], [902, 533, 'N', 11.5], [902, 541, 'E', 10]].forEach(d => {
    svg.append('text').attr('transform', 'translate(' + d[0] + ',' + d[1] + ') rotate(-90)')
      .attr('fill', NAVY).attr('font-size', d[3]).text(d[2]);
  });
}

function drawLeftChart() {
  let x = leftX;
  let hours = leftHours;

  // night band behind all the panels
  svg.append('rect').attr('x', x(20.9)).attr('y', 30).attr('width', x(30) - x(20.9)).attr('height', 598).attr('fill', '#edf4fd');

  // temperature
  let yTemp = d3.scaleLinear().domain([-10, 30]).range([128.7, 59.3]);
  let p = panel(x, 57, 134);
  sky(p, yTemp(0), leftNightBand, SKY_DAY, SKY_NIGHT);
  band(p, yTemp, hours, leftFeelsMin, leftFeels, '#98d9ff');
  band(p, yTemp, hours, leftTempMin, leftTempMax, '#ffe4d9');
  grid(p, leftGridHours, yTemp, leftTempTicks);
  ground(p, yTemp, hours, leftGroundMax, leftGroundMin);
  p.g.selectAll(null).data(leftDew).join('rect')
    .attr('x', (d, i) => x(hours[i]) - 1.5).attr('y', d => yTemp(d) - 1.5)
    .attr('width', 3).attr('height', 3).attr('fill', PURPLE);
  curve(p, yTemp, hours, leftFeels, '#0000ff', 2);
  curve(p, yTemp, hours, leftTemp, '#ff0000', 2);
  border(p);
  tickText(yTemp, leftTempTicks, null, 128.5, 'end');
  tickText(yTemp, leftTempTicks, null, 261, 'middle');

  // precipitation
  let yRain = d3.scaleLinear().domain([0, 2]).range([220, 150.7]);
  let yHum = d3.scaleLinear().domain([50, 96]).range([220, 150.7]);
  p = panel(x, 143.7, 220.5);
  p.g.selectAll(null).data(leftRain).join('rect')
    .attr('x', (d, i) => x(hours[i])).attr('y', d => yRain(d))
    .attr('width', (d, i) => x(hours[i] + 1) - x(hours[i])).attr('height', d => yRain(0) - yRain(d))
    .attr('fill', '#0a9a14');
  p.g.selectAll(null).data(leftSnow).join('rect')
    .attr('x', (d, i) => x(hours[i])).attr('y', (d, i) => yRain(d + leftRain[i]))
    .attr('width', (d, i) => x(hours[i] + 1) - x(hours[i])).attr('height', d => yRain(0) - yRain(d))
    .attr('fill', '#1030c8');
  grid(p, leftGridHours, yRain, leftRainTicks);
  p.g.selectAll(null).data(leftRainMax).join('line')
    .attr('x1', (d, i) => x(hours[i] + .5)).attr('x2', (d, i) => x(hours[i] + .5))
    .attr('y1', yRain(.9)).attr('y2', d => yRain(d))
    .attr('stroke', '#0a9a14').attr('stroke-width', 1.2);
  curve(p, yHum, hours, leftHumidity, HUMID, 1.8);
  p.g.selectAll(null).data(leftRainOverHours).join('rect')
    .attr('x', d => x(hours[d] + .5) - 1.5).attr('y', 145.5).attr('width', 3).attr('height', 3).attr('fill', RED);
  p.g.selectAll(null).data(leftStormColors).join('circle')
    .attr('cx', (d, i) => x(hours[i] + .5)).attr('cy', 173).attr('r', 2.3)
    .attr('fill', d => d).attr('stroke', '#222').attr('stroke-width', .7);
  p.g.selectAll(null).data(leftConvective).join('circle')
    .attr('cx', d => x(hours[d] + .3)).attr('cy', 219.5).attr('r', 1.2).attr('fill', RED);
  border(p);
  tickText(yRain, leftRainTicks, ['2.0', '1.5', '1.0', '0.5', '0.0'], 128.5, 'end');
  tickText(yRain, leftRainTicks, leftHumidityLabels, 265, 'end', '#e8531f');

  // pressure
  let yPres = d3.scaleLinear().domain([1018, 1012]).range([230.7, 301.7]);
  p = panel(x, 229.3, 305.7);
  columns(p, yPres, hours, leftPressure, (v, i) => leftPressure[i + 1] > 1016.6 ? '#ffd21e' : '#ffff00', 1011);
  grid(p, leftGridHours, yPres, leftPressureTicks);
  curve(p, yPres, hours, leftPressure, '#000', 2);
  border(p);
  tickText(yPres, leftPressureTicks, null, 128.5, 'end');
  tickText(yPres, leftPressureTicks, null, 251, 'start');

  // wind
  let yWind = d3.scaleLinear().domain([0, 20]).range([392, 315]);
  p = panel(x, 315, 392);
  columns(p, yWind, hours, leftWind, v => windColor(v), 0);
  grid(p, leftGridHours, yWind, leftWindTicks);
  gusts(p, yWind, hours, leftGust);
  curve(p, yWind, hours, leftWind, '#0000a8', 2);
  border(p);
  tickText(yWind, leftWindTicks, null, 128.5, 'end');
  tickText(yWind, leftWindTicks, leftWindKmhLabels, 257, 'middle');
  svg.append('circle').attr('cx', 138.5).attr('cy', 316.5).attr('r', 1.5).attr('fill', RED);

  // wind direction
  p = panel(x, 398.3, 429.3);
  grid(p, leftGridHours, yWind, []);
  border(p);
  arrows(x, hours, leftWindDir, 424, 19, 3, 1);

  // cloud base
  let yBase = d3.scaleLinear().domain(heightTicks).range([514, 495, 475, 456, 436.3]);
  let yVis = d3.scaleLinear().domain(visibilityTicks).range([514, 495, 475, 456, 436.3]);
  p = panel(x, 436, 514);
  sky(p, 436, leftNightBand, SKY_DAY, SKY_NIGHT);
  grid(p, leftGridHours, yBase, heightTicks);
  [leftBase01, leftBase25, leftBase45, leftBase65, leftBase79].forEach((s, i) => dots(p, yBase, hours, s, BASE_COLORS[i], 2.7));
  dots(p, yBase, hours, leftCloudTop, BROWN, 2.7);
  curve(p, yVis, hours, leftVisibility, ORANGE, 2);
  border(p);
  tickText(yBase, heightTicks, ['0.0', '0.5', '2.0', '7.0', '15.0'], 128.5, 'end', BLACK, 11);
  tickText(yVis, visibilityTicks, null, 252, 'start', '#ff8c00', 11);

  // clouds
  let yCloud = d3.scaleLinear().domain([0, 8]).range([601.3, 524.5]);
  let yFog = d3.scaleLinear().domain([0, 1]).range([601.3, 524.5]);
  p = panel(x, 523.3, 601.3);
  sky(p, 523.3, leftNightBand, SKY_DAY, SKY_NIGHT);
  fillTo(p, yCloud, hours, leftCloudHigh, '#fff', 0);
  fillTo(p, yCloud, hours, leftCloudMid, '#999', 0);
  fillTo(p, yCloud, hours, leftCloudLow, '#555', 0);
  fillTo(p, yCloud, hours, leftCloudVeryLow, '#333', 0);
  p.g.selectAll(null).data(leftFog).join('rect')
    .attr('x', (d, i) => x(leftFogHours[i]) - 1.3).attr('y', d => yFog(d))
    .attr('width', 2.8).attr('height', d => yFog(0) - yFog(d)).attr('fill', '#ffb400');
  grid(p, leftGridHours, yCloud, cloudTicks);
  border(p);
  tickText(yCloud, cloudTicks, null, 128.5, 'end', BLACK, 11);
  tickText(yCloud, cloudTicks, cloudFractionLabels, 251, 'start', '#ff8c00', 11);

  // hour labels above and below
  [[52, leftLocalLabels], [614, leftUtcLabels]].forEach(row => {
    svg.selectAll(null).data(leftLabelHours).join('text')
      .attr('x', d => x(d)).attr('y', row[0]).attr('text-anchor', 'middle')
      .attr('font-size', 12.5).text((d, i) => row[1][i]);
  });
}

// ---- captions of the small chart ----
function drawLegend() {
  svg.append('rect').attr('x', 11).attr('y', 506).attr('width', 44).attr('height', 12).attr('fill', SKY_DAY);
  svg.append('rect').attr('x', 10).attr('y', 551).attr('width', 41).attr('height', 12).attr('fill', SKY_DAY);

  let captions = [
    ['Czas lokalny', 5.5, 19, BLACK, 59],
    ['(CET/CEST)', 5.5, 30, BLACK, 54],
    ['Temperatura gruntu', 5.5, 46, BROWN, 93],
    ['max/min', 27.5, 57, BROWN, 39],
    ['Temperatura:', 5.5, 68, BLACK, 62],
    ['punkt środkowy', 12.5, 80, RED, 77],
    ['max/min', 27.5, 91, '#f9d9cc', 39],
    ['odczuwana', 10, 102, '#0000ff', 57],
    ['max/min', 27.5, 113, '#a9ddfb', 39],
    ['Temp. punktu rosy', 5.5, 124, PURPLE, 87],
    ['Opad powyżej skali', 5.5, 142, RED, 95],
    ['Wilgotność względna', 5.5, 156, HUMID, 97],
    ['Wystąpienie burzy', 5.5, 170, BLACK, 85],
    ['Deszcz: max', 5.5, 183, '#0a9a14', 63],
    ['średni', 48, 194, '#0a9a14', 29],
    ['Śnieg:', 5.5, 205, '#1030c8', 29],
    ['max', 48, 205, '#1030c8', 19],
    ['średni', 48, 216, '#1030c8', 29],
    ['Wystąpienie opadu', 5.5, 228, RED, 89],
    ['konwekcyjnego', 5.5, 241, RED, 72],
    ['Ciśnienie', 5, 268, BLACK, 43],
    ['zredukowane', 5, 281, BLACK, 66],
    ['do poziomu morza', 5, 293, BLACK, 87],
    ['Wiatr na 10m:', 5, 322, BLACK, 68],
    ['poryw powyżej skali', 10, 338, RED, 100],
    ['max porywy wiatru', 10, 352, RED, 95],
    ['prędkość wiatru', 10, 372, '#00008b', 79],
    ['w środku obszaru', 10, 385, '#00008b', 89],
    ['kierunek wiatru', 10, 412, '#00008b', 73],
    ['Wierzchołek chmur', 5.5, 432, BROWN, 91],
    ['Podstawa chmur*', 5.5, 448, BLACK, 86],
    ['o pokryciu', 5.5, 460, BLACK, 48],
    ['> 7.9 okt.', 11, 471, BLACK, 44],
    ['> 6.5 okt.', 11, 482, '#444', 44],
    ['> 4.5 okt.', 11, 493, '#8c8c8c', 44],
    ['> 2.5 okt.', 11, 504, '#ddd', 44],
    ['> 0.1 okt.', 11, 516, '#fff', 44],
    ['Widzialność', 5.5, 530, ORANGE, 57],
    ['Chmury:', 5.5, 547, BLACK, 39],
    ['wysokie', 10, 560, '#fff', 41],
    ['średnie', 10, 573, '#999', 36],
    ['niskie', 10, 585, '#444', 27],
    ['bardzo niskie', 10, 597, '#333', 61],
    ['Mgła', 5.5, 609, '#ffb400', 20],
    ['Czas uniwersalny (UTC)', 5.5, 626, BLACK, 131]
  ];
  captions.forEach(c => label(c[0], c[1], c[2], { color: c[3], width: c[4] }));
  label('* powyżej poziomu morza', 5.5, 651, { size: 9.5, width: 103 });

  let links = [
    [[[68, 16], [133, 16], [156, 45]], BLACK],
    [[[100, 43], [119, 43], [157, 100]], BROWN],
    [[[92, 76.5], [116, 76.5]], RED],
    [[[130, 76], [155, 100]], RED],
    [[[70, 99], [135, 99]], '#0000ff'],
    [[[94, 120], [135, 120], [139, 113]], PURPLE],
    [[[102, 138], [137, 138], [146, 146]], RED],
    [[[106, 152], [112, 152]], HUMID],
    [[[130, 151], [145, 165]], HUMID],
    [[[104, 166], [112, 166]], BLACK],
    [[[130, 165], [137, 172]], BLACK],
    [[[71, 178], [135, 178], [139, 172]], '#0a9a14'],
    [[[80, 190], [138, 190]], '#0a9a14'],
    [[[70, 202], [112, 202]], '#1030c8'],
    [[[127, 202], [161, 170]], '#1030c8'],
    [[[81, 212], [133, 212], [161, 180]], '#1030c8'],
    [[[95, 225], [140, 225], [146, 220]], RED],
    [[[52, 264], [135, 264]], BLACK],
    [[[112, 335], [118, 335]], RED],
    [[[130, 335], [138, 316]], RED],
    [[[108, 349], [130, 349], [145, 340]], RED],
    [[[92, 367], [135, 367]], '#00008b'],
    [[[86, 410], [135, 410]], '#00008b'],
    [[[100, 430], [135, 430], [185, 446]], BROWN],
    [[[57, 468], [135, 468], [192, 455]], BLACK],
    [[[55, 480], [143, 480]], '#444'],
    [[[55, 491], [132, 491], [143, 502]], '#8c8c8c'],
    [[[55, 502], [135, 502]], '#ddd'],
    [[[67, 527], [127, 527], [175, 465]], ORANGE],
    [[[50, 571], [192, 571]], '#888'],
    [[[40, 583], [122, 583]], BLACK],
    [[[74, 594], [150, 594]], BLACK],
    [[[27, 605], [217, 605], [220, 600]], '#ffb400'],
    [[[139, 623], [147, 623], [157, 609]], BLACK]
  ];
  links.forEach(l => connector(l[0], l[1]));
  // the two light blue captions use a double line
  [[[55, 512], [135, 512]], [[54, 557], [185, 557]]].forEach(l => {
    connector(l, SKY_DAY, 3);
    connector(l, '#fff', 1);
  });
}

drawBanner();
drawMainBackdrop();
drawMainChart();
drawLeftChart();
drawLegend();
</script>
</body>
</html>
